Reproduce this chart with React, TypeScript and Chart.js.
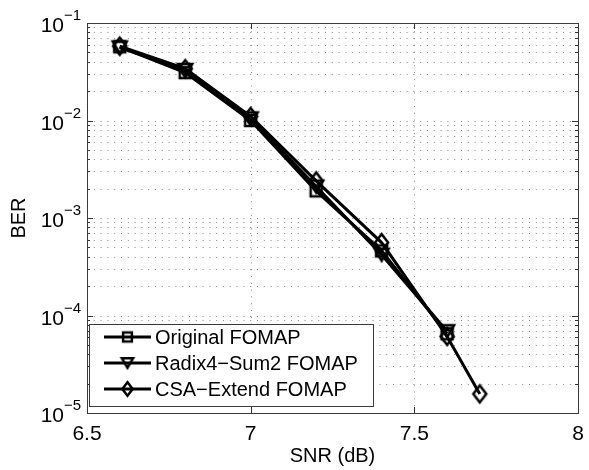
import React, { useEffect, useRef } from 'react';
import { Chart, registerables } from 'chart.js';

Chart.register(...registerables);

// ---- data ----
const snr = [6.6, 6.8, 7.0, 7.2, 7.4, 7.6, 7.7];
const originalBer = [0.057, 0.031, 0.0100, 0.0019, 0.00046, 0.000065];
const radixBer = [0.056, 0.033, 0.0105, 0.0021, 0.00042, 0.000069];
const csaBer = [0.058, 0.034, 0.011, 0.0024, 0.00056, 0.000061, 0.0000157];
const seriesNames = ['Original FOMAP', 'Radix4\u2212Sum2 FOMAP', 'CSA\u2212Extend FOMAP'];
const seriesMarkers = ['square', 'triangle', 'diamond'];
const xTicks = [6.5, 7, 7.5, 8];
const xTickLabels = ['6.5', '7', '7.5', '8'];
const yDecadeExponents = [-1, -2, -3, -4, -5];
const xTitle = 'SNR (dB)';
const yTitle = 'BER';

const FONT = '"Liberation Sans", Arial, Helvetica, sans-serif';

function makeMarker(kind: string, s: number): HTMLCanvasElement {
  const pad = 3;
  let w = 11 * s, h = 11 * s;
  if (kind === 'triangle') { w = 14 * s; h = 12 * s; }
  if (kind === 'diamond') { w = 13 * s; h = 17 * s; }
  const c = document.createElement('canvas');
  c.width = Math.ceil(w + pad * 2);
  c.height = Math.ceil(h + pad * 2);
  const ctx = c.getContext('2d')!;
  ctx.strokeStyle = '#000';
  ctx.lineWidth = 2.5;
  ctx.lineJoin = 'miter';
  const cx = c.width / 2, cy = c.height / 2;
  ctx.beginPath();
  if (kind === 'square') {
    ctx.rect(cx - w / 2, cy - h / 2, w, h);
  } else if (kind === 'triangle') {
    ctx.moveTo(cx - w / 2, cy - h / 2);
    ctx.lineTo(cx + w / 2, cy - h / 2);
    ctx.lineTo(cx, cy + h / 2);
    ctx.closePath();
  } else {
    ctx.moveTo(cx, cy - h / 2);
    ctx.lineTo(cx + w / 2, cy);
    ctx.lineTo(cx, cy + h / 2);
    ctx.lineTo(cx - w / 2, cy);
    ctx.closePath();
  }
  ctx.stroke();
  return c;
}

let legendMarkers: HTMLCanvasElement[] = [];

const matlabPlugin = {
  id: 'matlabAxes',
  beforeDatasetsDraw(chart: any) {
    const { ctx, chartArea: a, scales } = chart;
    const xs = scales.x, ys = scales.y;
    ctx.save();
    ctx.fillStyle = '#fff';
    ctx.fillRect(a.left, a.top, a.right - a.left, a.bottom - a.top);
    ctx.strokeStyle = '#8a8a8a';
    ctx.lineWidth = 1;
    ctx.setLineDash([1, 5.8]);
    xTicks.forEach((v) => {
      const px = Math.round(xs.getPixelForValue(v)) + 0.5;
      ctx.beginPath();
      ctx.moveTo(px, a.bottom);
      ctx.lineTo(px, a.top);
      ctx.stroke();
    });
    yDecadeExponents.forEach((e) => {
      for (let m = 1; m <= 9; m++) {
        const v = m * Math.pow(10, e);
        if (v > 0.1 + 1e-12 || v < 1e-5 - 1e-15) continue;
        const py = Math.round(ys.getPixelForValue(v)) + 0.5;
        ctx.beginPath();
        ctx.moveTo(a.left, py);
        ctx.lineTo(a.right, py);
        ctx.stroke();
      }
    });
    ctx.restore();
  },
  afterDatasetsDraw(chart: any) {
    const { ctx, chartArea: a, scales } = chart;
    const xs = scales.x, ys = scales.y;
    ctx.save();
    ctx.setLineDash([]);
    ctx.strokeStyle = '#333';
    ctx.lineWidth = 1;
    xTicks.forEach((v) => {
      const px = Math.round(xs.getPixelForValue(v)) + 0.5;
      ctx.beginPath();
      ctx.moveTo(px, a.bottom); ctx.lineTo(px, a.bottom - 6);
      ctx.moveTo(px, a.top); ctx.lineTo(px, a.top + 6);
      ctx.stroke();
    });
    yDecadeExponents.forEach((e) => {
      for (let m = 1; m <= 9; m++) {
        const v = m * Math.pow(10, e);
        if (v > 0.1 + 1e-12 || v < 1e-5 - 1e-15) continue;
        const py = Math.round(ys.getPixelForValue(v)) + 0.5;
        const len = m === 1 ? 6 : 3;
        ctx.beginPath();
        ctx.moveTo(a.left, py); ctx.lineTo(a.left + len, py);
        ctx.moveTo(a.right, py); ctx.lineTo(a.right - len, py);
        ctx.stroke();
      }
    });
    ctx.strokeStyle = '#3a3a3a';
    ctx.strokeRect(Math.round(a.left) + 0.5, Math.round(a.top) + 0.5,
      Math.round(a.right - a.left), Math.round(a.bottom - a.top));
    ctx.restore();
  },
  afterDraw(chart: any) {
    const { ctx, chartArea: a, scales } = chart;
    const xs = scales.x, ys = scales.y;
    ctx.save();
    ctx.fillStyle = '#000';
    ctx.font = `21px ${FONT}`;
    ctx.textAlign = 'center';
    ctx.textBaseline = 'alphabetic';
    xTicks.forEach((v, i) => {
      ctx.fillText(xTickLabels[i], xs.getPixelForValue(v), a.bottom + 27);
    });
    yDecadeExponents.forEach((e) => {
      const py = ys.getPixelForValue(Math.pow(10, e));
      ctx.font = `21px ${FONT}`;
      ctx.textAlign = 'right';
      ctx.textBaseline = 'alphabetic';
      ctx.fillText('10', a.left - 23, py + 9);
      ctx.font = `15px ${FONT}`;
      ctx.textAlign = 'left';
      ctx.fillText('\u2212' + String(Math.abs(e)), a.left - 23, py - 3);
    });
    ctx.font = `20px ${FONT}`;
    ctx.textAlign = 'center';
    ctx.textBaseline = 'middle';
    ctx.fillText(xTitle, (a.left + a.right) / 2, a.bottom + 43);
    ctx.save();
    ctx.translate(19, (a.top + a.bottom) / 2);
    ctx.rotate(-Math.PI / 2);
    ctx.fillText(yTitle, 0, 0);
    ctx.restore();
    // legend
    const lx = a.left + 2.5, ly = 324.5, lw = 284, lh = 82;
    ctx.fillStyle = '#fff';
    ctx.fillRect(lx, ly, lw, lh);
    ctx.strokeStyle = '#3a3a3a';
    ctx.lineWidth = 1;
    ctx.strokeRect(lx, ly, lw, lh);
    const rows = [337, 363, 389];
    seriesNames.forEach((name, i) => {
      const ry = rows[i];
      ctx.strokeStyle = '#000';
      ctx.lineWidth = 3;
      ctx.beginPath();
      ctx.moveTo(104, ry);
      ctx.lineTo(151, ry);
      ctx.stroke();
      const mk = legendMarkers[i];
      ctx.drawImage(mk, 127.5 - mk.width / 2, ry - mk.height / 2);
      ctx.fillStyle = '#000';
      ctx.font = `20px ${FONT}`;
      ctx.textAlign = 'left';
      ctx.textBaseline = 'middle';
      ctx.fillText(name, 155, ry + 1);
    });
    ctx.restore();
  },
};

export default function App() {
  const ref = useRef<HTMLCanvasElement | null>(null);
  useEffect(() => {
    document.body.style.margin = '0';
    const plotMarkers = seriesMarkers.map((k) => makeMarker(k, 1));
    legendMarkers = seriesMarkers.map((k) => makeMarker(k, 0.8));
    const series = [originalBer, radixBer, csaBer];
    const chart = new Chart(ref.current!, {
      type: 'line',
      data: {
        datasets: series.map((vals, i) => ({
          label: seriesNames[i],
          data: vals.map((y, j) => ({ x: snr[j], y })),
          borderColor: '#000',
          backgroundColor: '#000',
          borderWidth: 3,
          pointStyle: plotMarkers[i] as any,
          pointRadius: 8,
          tension: 0,
          fill: false,
        })),
      },
      options: {
        animation: false,
        responsive: false,
        devicePixelRatio: 1,
        layout: { padding: { left: 87, right: 7, top: 23, bottom: 57 } },
        scales: {
          x: { type: 'linear', min: 6.5, max: 8, display: false },
          y: { type: 'logarithmic', min: 1e-5, max: 1e-1, display: false },
        },
        plugins: { legend: { display: false }, tooltip: { enabled: false } },
      },
      plugins: [matlabPlugin],
    });
    return () => chart.destroy();
  }, []);
  return (
    <div style={{ position: 'absolute', left: 0, top: 0, width: 589, height: 470, background: '#fff' }}>
      <canvas ref={ref} width={589} height={470} style={{ display: 'block' }} />
    </div>
  );
}
